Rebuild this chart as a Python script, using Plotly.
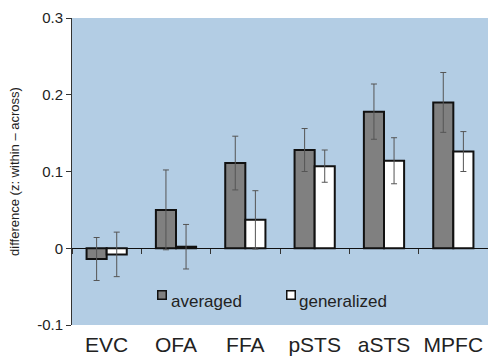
import plotly.graph_objects as go

categories = ["EVC", "OFA", "FFA", "pSTS", "aSTS", "MPFC"]
averaged = [-0.014, 0.050, 0.111, 0.128, 0.178, 0.190]
averaged_err = [0.028, 0.052, 0.035, 0.028, 0.036, 0.039]
generalized = [-0.008, 0.002, 0.037, 0.107, 0.114, 0.126]
generalized_err = [0.029, 0.029, 0.038, 0.021, 0.030, 0.026]
y_ticks = [-0.1, 0, 0.1, 0.2, 0.3]
y_tick_labels = ["-0.1", "0", "0.1", "0.2", "0.3"]
series_names = ["averaged", "generalized"]
series_colors = ["#808080", "#ffffff"]

FONT = "Liberation Sans, Arial, Helvetica, sans-serif"
BG = "#b3cde4"
TXT = "#222222"

fig = go.Figure()
for name, vals, errs, col in [(series_names[0], averaged, averaged_err, series_colors[0]),
                              (series_names[1], generalized, generalized_err, series_colors[1])]:
    fig.add_trace(go.Bar(
        x=categories, y=vals, name=name, showlegend=False,
        marker=dict(color=col, line=dict(color="#111111", width=2)),
        error_y=dict(type="data", array=errs, color="#555555", thickness=1, width=3),
    ))
# invisible trace for boundary ticks on the zero line
fig.add_trace(go.Scatter(x=categories, y=[None] * len(categories), xaxis="x2",
                         showlegend=False, hoverinfo="skip"))

# legend drawn as annotations (box + label)
legend_x = [0.205, 0.515]
for lx, name, col in zip(legend_x, series_names, series_colors):
    fig.add_annotation(xref="paper", yref="paper", x=lx, y=0.097, xanchor="left", yanchor="middle",
                       text="", width=7, height=7, bgcolor=col, bordercolor="#111111",
                       borderwidth=1.5, borderpad=0, showarrow=False)
    fig.add_annotation(xref="paper", yref="paper", x=lx + 0.027, y=0.078, xanchor="left", yanchor="middle",
                       text=name, showarrow=False, font=dict(size=17, family=FONT, color=TXT))

fig.update_layout(
    width=488, height=363,
    margin=dict(l=72, r=0, t=18, b=38),
    paper_bgcolor="white", plot_bgcolor=BG,
    font=dict(family=FONT, color=TXT),
    barmode="group", bargap=0.42, bargroupgap=0,
    showlegend=False,
    xaxis=dict(showgrid=False, showline=False, ticks="", zeroline=False, automargin=False,
               tickfont=dict(size=21, family=FONT, color=TXT),
               ticklabelstandoff=5, range=[-0.5, 5.5]),
    xaxis2=dict(overlaying="x", anchor="free", position=0.25, type="category",
                categoryorder="array", categoryarray=categories, range=[-0.5, 5.5],
                showgrid=False, showline=False, zeroline=False, automargin=False,
                ticks="outside", tickson="boundaries", ticklen=5, tickcolor="#333333",
                showticklabels=False),
    yaxis=dict(range=[-0.1, 0.3], tickvals=y_ticks, ticktext=y_tick_labels, automargin=False,
               showgrid=False, showline=True, linecolor="#333333", linewidth=1,
               ticks="outside", ticklen=5, tickcolor="#333333",
               zeroline=True, zerolinecolor="#111111", zerolinewidth=1,
               tickfont=dict(size=15, family=FONT, color=TXT),
               title=dict(text="difference (z: within \u2013 across)",
                          font=dict(size=13, family=FONT, color=TXT), standoff=14)),
)

fig.write_html("out.html", config={"displayModeBar": False},
               post_script="document.body.style.margin='0';document.body.style.padding='0';")
